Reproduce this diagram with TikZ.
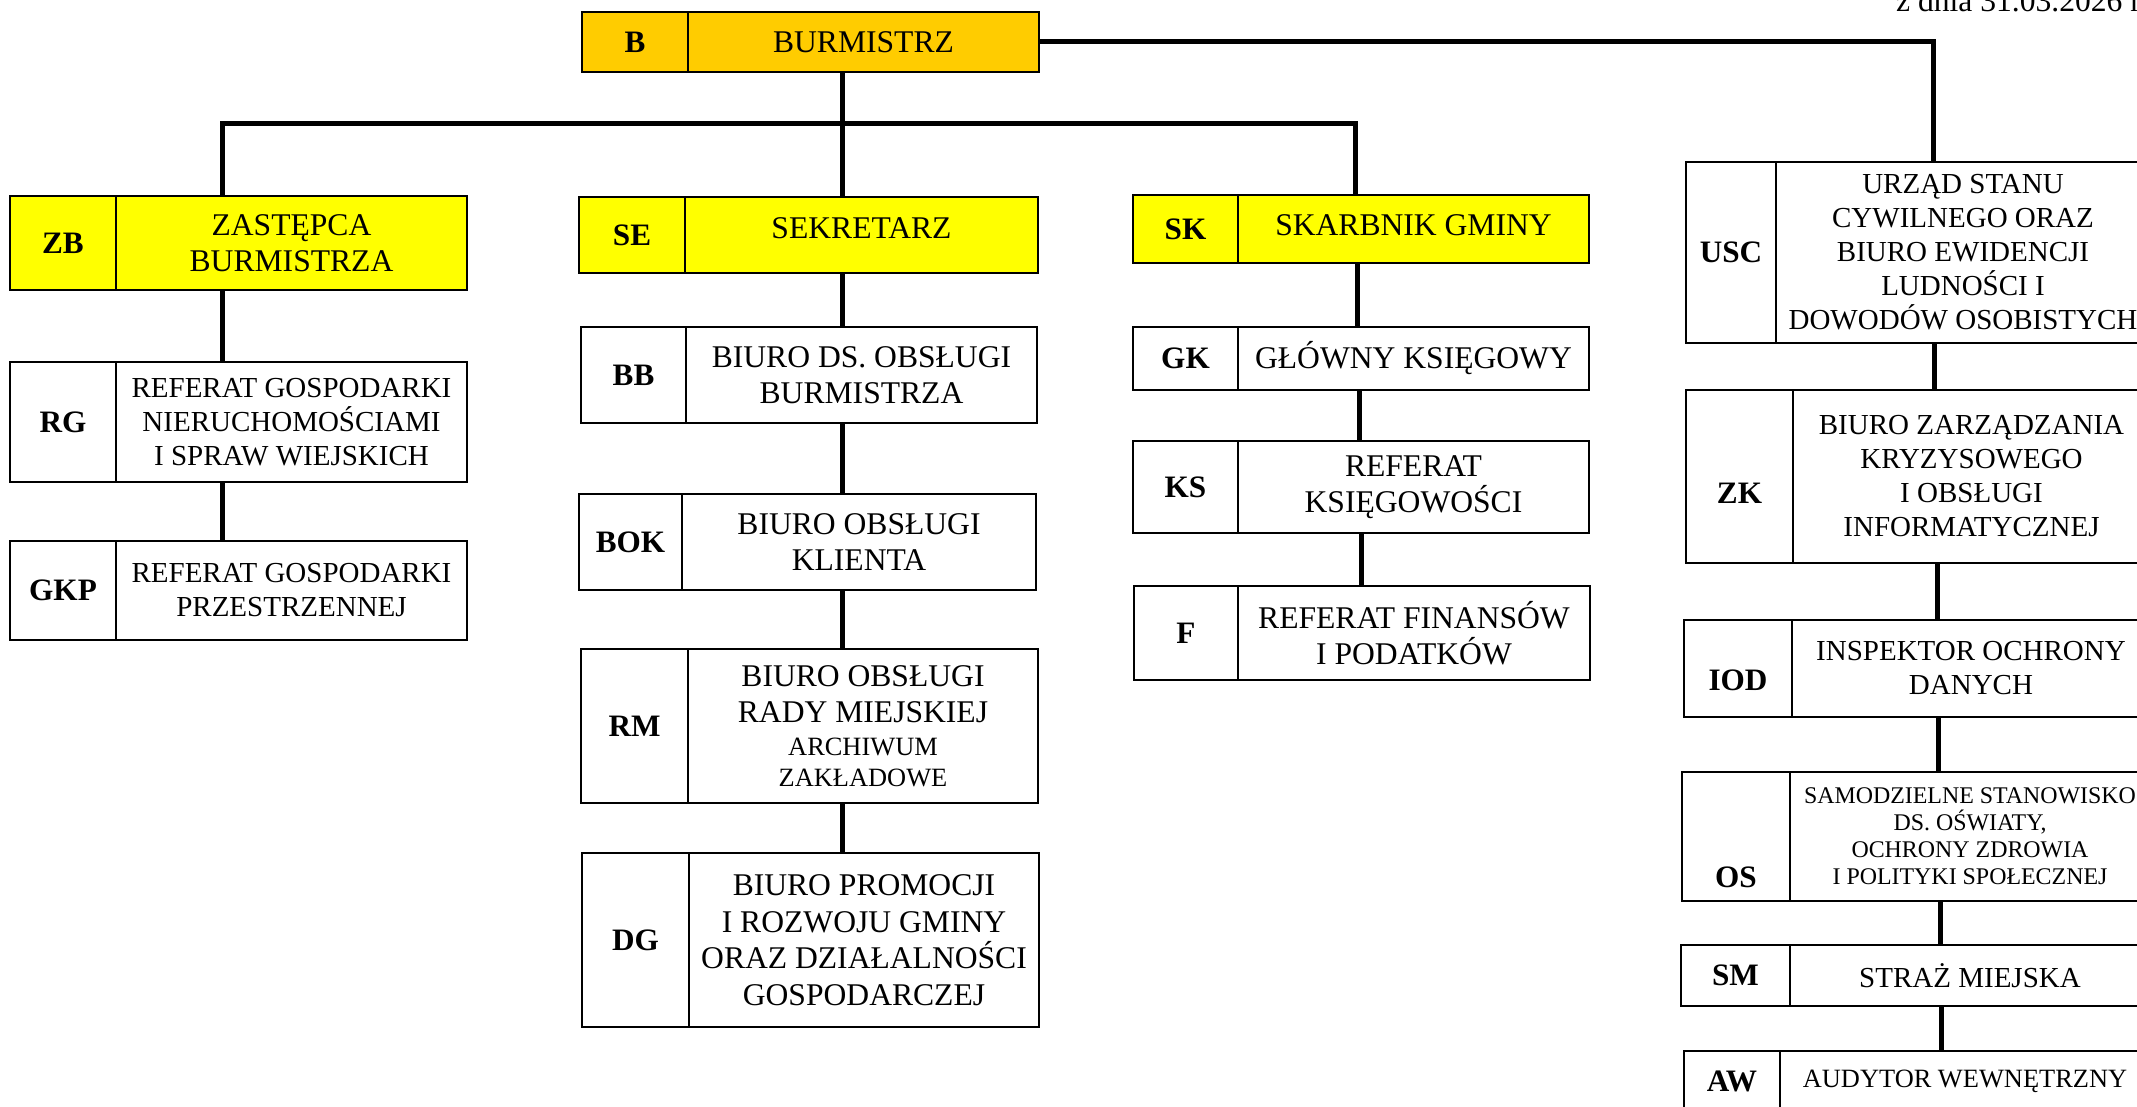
\documentclass[tikz,border=0pt]{standalone}
\usepackage{fontspec}
\setmainfont{Liberation Serif}
\usepackage{xcolor}
\usepackage{tikz}
\usetikzlibrary{positioning}

\definecolor{burmcolor}{HTML}{FFCC00}
\definecolor{zastcolor}{HTML}{FFFF00}

\newcommand\bigtxt{\fontsize{15.8}{18.3}\selectfont}
\newcommand\midtxt{\fontsize{14.5}{17}\selectfont}
\newcommand\smalltxt{\fontsize{13.2}{15}\selectfont}
\newcommand\tinytxt{\fontsize{11.95}{13.5}\selectfont}
\newcommand\codetxt{\fontsize{15.6}{18}\selectfont\bfseries}

\begin{document}
\begin{tikzpicture}[x=0.5pt, y=-0.5pt,
    cell/.style={draw, line width=1pt, outer sep=0pt, inner sep=0pt, align=center, anchor=north west},
    codecell/.style={cell, font=\codetxt},
    namecell/.style={cell, font=\bigtxt},
    wh/.style 2 args={minimum width=#1*0.5pt, minimum height=#2*0.5pt},
    link/.style={line width=2.5pt}]
  \useasboundingbox (0,0) rectangle (2137,1107);
  \clip (0,0) rectangle (2137,1107);

  % top
  \node[codecell, wh={106}{60}, fill=burmcolor] (bc) at (582,12) {B};
  \node[namecell, wh={351}{60}, fill=burmcolor, right=0pt of bc] (b) {BURMISTRZ};
  \node[anchor=base west, font=\bigtxt] (date) at (1889,12) {z dnia 31.03.2026 r.};

  % left column
  \node[codecell, wh={106}{94}, fill=zastcolor] (zbc) at (10,196) {ZB};
  \node[namecell, wh={351}{94}, fill=zastcolor, right=0pt of zbc] (zb) {ZASTĘPCA\\BURMISTRZA};
  \node[codecell, wh={106}{120}] (rgc) at (10,362) {RG};
  \node[namecell, wh={351}{120}, font=\midtxt, right=0pt of rgc] (rg) {REFERAT GOSPODARKI\\NIERUCHOMOŚCIAMI\\I SPRAW WIEJSKICH};
  \node[codecell, wh={106}{99}] (gkpc) at (10,541) {GKP};
  \node[namecell, wh={351}{99}, font=\midtxt, right=0pt of gkpc] (gkp) {REFERAT GOSPODARKI\\PRZESTRZENNEJ};

  % secretary column
  \node[codecell, wh={106}{76}, fill=zastcolor] (sec) at (579,197) {SE};
  \node[namecell, wh={353}{76}, fill=zastcolor, text depth=7pt, right=0pt of sec] (se) {SEKRETARZ};
  \node[codecell, wh={105}{96}] (bbc) at (581,327) {BB};
  \node[namecell, wh={351}{96}, right=0pt of bbc] (bb) {BIURO DS. OBSŁUGI\\BURMISTRZA};
  \node[codecell, wh={103}{96}] (bokc) at (579,494) {BOK};
  \node[namecell, wh={354}{96}, right=0pt of bokc] (bok) {BIURO OBSŁUGI\\KLIENTA};
  \node[codecell, wh={107}{154}] (rmc) at (581,649) {RM};
  \node[namecell, wh={350}{154}, right=0pt of rmc] (rm) {BIURO OBSŁUGI\\RADY MIEJSKIEJ\\[-2pt]\smalltxt ARCHIWUM\\[-3pt]\smalltxt ZAKŁADOWE};
  \node[codecell, wh={107}{174}] (dgc) at (582,853) {DG};
  \node[namecell, wh={350}{174}, right=0pt of dgc] (dg) {BIURO PROMOCJI\\I ROZWOJU GMINY\\ORAZ DZIAŁALNOŚCI\\GOSPODARCZEJ};

  % treasurer column
  \node[codecell, wh={105}{68}, fill=zastcolor] (skc) at (1133,195) {SK};
  \node[namecell, wh={351}{68}, fill=zastcolor, text depth=4pt, right=0pt of skc] (sk) {SKARBNIK GMINY};
  \node[codecell, wh={105}{63}] (gkc) at (1133,327) {GK};
  \node[namecell, wh={351}{63}, right=0pt of gkc] (gk) {GŁÓWNY KSIĘGOWY};
  \node[codecell, wh={105}{92}] (ksc) at (1133,441) {KS};
  \node[namecell, wh={351}{92}, right=0pt of ksc] (ks) {REFERAT\\KSIĘGOWOŚCI};
  \node[codecell, wh={104}{94}] (fc) at (1134,586) {F};
  \node[namecell, wh={352}{94}, right=0pt of fc] (f) {REFERAT FINANSÓW\\I PODATKÓW};

  % right column
  \node[codecell, wh={90}{181}] (uscc) at (1686,162) {USC};
  \node[namecell, wh={374}{181}, font=\midtxt, right=0pt of uscc] (usc) {URZĄD STANU\\CYWILNEGO ORAZ\\BIURO EWIDENCJI\\LUDNOŚCI I\\DOWODÓW OSOBISTYCH};
  \node[codecell, wh={107}{173}, text height=26.8pt] (zkc) at (1686,390) {ZK};
  \node[namecell, wh={357}{173}, font=\midtxt, right=0pt of zkc] (zk) {BIURO ZARZĄDZANIA\\KRYZYSOWEGO\\I OBSŁUGI\\INFORMATYCZNEJ};
  \node[codecell, wh={108}{97}, text height=21.8pt] (iodc) at (1684,620) {IOD};
  \node[namecell, wh={358}{97}, font=\midtxt, right=0pt of iodc] (iod) {INSPEKTOR OCHRONY\\DANYCH};
  \node[codecell, wh={108}{129}, text height=50.8pt] (osc) at (1682,772) {OS};
  \node[namecell, wh={360}{129}, font=\tinytxt, right=0pt of osc] (os) {SAMODZIELNE STANOWISKO\\DS. OŚWIATY,\\OCHRONY ZDROWIA\\I POLITYKI SPOŁECZNEJ};
  \node[codecell, wh={109}{61}] (smc) at (1681,945) {SM};
  \node[namecell, wh={360}{61}, font=\midtxt, right=0pt of smc] (sm) {STRAŻ MIEJSKA};
  \node[codecell, wh={96}{61}] (awc) at (1684,1051) {AW};
  \node[namecell, wh={370}{61}, font=\smalltxt, right=0pt of awc] (aw) {AUDYTOR WEWNĘTRZNY};

  % connectors
  \coordinate (busL) at (222,124);
  \coordinate (busM) at (842,124);
  \coordinate (busR) at (1355,124);
  \coordinate (turn) at (1933,42);
  \draw[link] (b.south -| busM) -- (busM);
  \draw[link] (zb.north -| busL) -- (busL) -- (busR) -- (sk.north -| busR);
  \draw[link] (busM) -- (se.north -| busM);
  \draw[link] (b.east) -- (turn) -- (usc.north -| turn);

  \draw[link] (zb.south -| busL) -- (rg.north -| busL);
  \draw[link] (rg.south -| busL) -- (gkp.north -| busL);

  \draw[link] (se.south -| busM) -- (bb.north -| busM);
  \draw[link] (bb.south -| busM) -- (bok.north -| busM);
  \draw[link] (bok.south -| busM) -- (rm.north -| busM);
  \draw[link] (rm.south -| busM) -- (dg.north -| busM);

  \draw[link] (sk.south -| 1357,0) -- (gk.north -| 1357,0);
  \draw[link] (gk.south -| 1359,0) -- (ks.north -| 1359,0);
  \draw[link] (ks.south -| 1361,0) -- (f.north -| 1361,0);

  \draw[link] (usc.south -| 1934,0) -- (zk.north -| 1934,0);
  \draw[link] (zk.south -| 1937,0) -- (iod.north -| 1937,0);
  \draw[link] (iod.south -| 1938,0) -- (os.north -| 1938,0);
  \draw[link] (os.south -| 1940,0) -- (sm.north -| 1940,0);
  \draw[link] (sm.south -| 1941,0) -- (aw.north -| 1941,0);
\end{tikzpicture}
\end{document}
